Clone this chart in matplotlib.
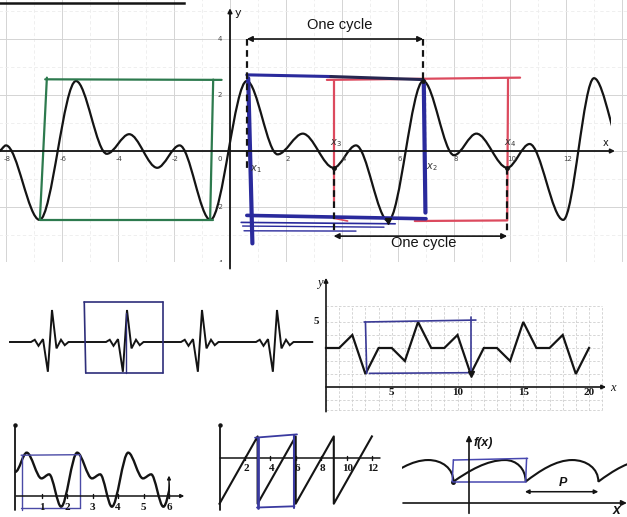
import matplotlib
matplotlib.use('Agg')
import matplotlib.pyplot as plt
from matplotlib.path import Path
from matplotlib.patches import PathPatch, Rectangle
from matplotlib.lines import Line2D

W, H = 627, 517

# ---------------- data ----------------
# top graph: turning points of the periodic curve
wave_x = [-8.25, -8.0, -6.8, -5.5, -4.4, -3.6, -2.6, -1.8, -0.7, 0.6, 1.7, 2.6, 3.7,
          4.5, 5.65, 6.9, 8.0, 8.8, 9.9, 10.7, 11.9, 13.0, 14.1]
wave_y = [0.0, 0.2, -2.46, 2.5, -0.1, 0.6, -0.6, 0.2, -2.46, 2.5, -0.12, 0.62, -0.6,
          0.2, -2.5, 2.5, -0.15, 0.62, -0.6, 0.25, -2.46, 2.6, -0.12]
wave_end = 13.6
top_xticks = [-8, -6, -4, -2, 0, 2, 4, 6, 8, 10, 12]
top_yticks = [4, 2, -2, -4]
x1, x2, x3, x4 = 0.6, 6.9, 3.7, 9.9

# ECG strip
ecg_beats = [0, 1, 2, 3]
beat_dx = [-0.28, -0.23, -0.18, -0.12, -0.055, 0.0, 0.06, 0.12, 0.17, 0.22]
beat_y = [0, 0.07, -0.12, 0.09, -0.93, 1.0, -0.2, 0.07, -0.1, 0]
ecg_start, ecg_end = -0.56, 3.47

# broken-line graph
tri_x = list(range(21))
tri_y = [3, 3, 4, 1, 3, 3, 2, 5, 3, 3, 4, 1, 3, 3, 2, 5, 3, 3, 4, 1, 3]
tri_xticks = [5, 10, 15, 20]

# bottom-left wave: turning points
bl_x = [-0.02, 0.42, 1.0, 1.3, 1.77, 2.4, 2.98, 3.3, 3.76, 4.4, 4.98, 5.3, 5.78, 6.4]
bl_y = [0.95, 1.7, 0.69, 0.85, -0.42, 1.7, 0.69, 0.85, -0.42, 1.7, 0.69, 0.85, -0.42, 1.7]
bl_end = 6.05
bl_xticks = [1, 2, 3, 4, 5, 6]

# sawtooth
saw_x = [0, 3, 3, 6, 6, 9, 9, 12]
saw_y = [-3.6, 1.7, -3.6, 1.7, -3.6, 1.7, -3.6, 1.7]
saw_xticks = [2, 4, 6, 8, 10, 12]

# f(x): cusps and peaks of the arches
fx_cusp_x = [-3.65, -0.65, 2.36, 5.39]
fx_peak_x = [-1.7, 1.5, 4.3, 7.4]
fx_low, fx_high = 0.89, 1.79
fx_start, fx_end = -2.8, 6.57

# ---------------- helpers ----------------
GREEN = '#2d7a4e'
BLUE = '#2a2a9c'
RED = '#dc4a5e'
INK = '#141414'

fig = plt.figure(figsize=(6.27, 5.17), dpi=100)
fig.patch.set_facecolor('white')


def px_axes(x0, y0, x1, y1, ox, oy, sx, sy):
    ax = fig.add_axes([x0 / W, 1 - y1 / H, (x1 - x0) / W, (y1 - y0) / H])
    ax.set_xlim((x0 - ox) / sx, (x1 - ox) / sx)
    ax.set_ylim((oy - y1) / sy, (oy - y0) / sy)
    ax.axis('off')
    return ax


def smooth(ax, xs, ys, xmin, xmax, lw=1.5, color=INK):
    verts = [(xs[0], ys[0])]
    codes = [Path.MOVETO]
    for i in range(len(xs) - 1):
        d = xs[i + 1] - xs[i]
        verts += [(xs[i] + d / 3, ys[i]), (xs[i + 1] - d / 3, ys[i + 1]), (xs[i + 1], ys[i + 1])]
        codes += [Path.CURVE4] * 3
    p = PathPatch(Path(verts, codes), fill=False, lw=lw, ec=color, capstyle='round')
    ax.add_patch(p)
    p.set_clip_path(Rectangle((xmin, -50), xmax - xmin, 100, transform=ax.transData))


def seg(ax, xa, ya, xb, yb, c, lw=1.3, **kw):
    ax.plot([xa, xb], [ya, yb], color=c, lw=lw, solid_capstyle='round', **kw)


def arrow(ax, xa, ya, xb, yb, style='-|>', lw=1.0, ms=7, c=INK):
    ax.annotate('', xy=(xb, yb), xytext=(xa, ya),
                arrowprops=dict(arrowstyle=style, lw=lw, color=c, mutation_scale=ms,
                                shrinkA=0, shrinkB=0), annotation_clip=False)


# ---------------- top graph ----------------
ax = px_axes(0, 0, 627, 262, 230, 151, 28, 28)
for gx in range(-8, 15):
    if gx % 2 == 0:
        ax.plot([gx, gx], [-4.2, 5.6], color='#d4d4d4', lw=0.7, zorder=0)
    else:
        ax.plot([gx, gx], [-4.2, 5.6], color='#ececec', lw=0.6, ls=(0, (4, 3)), zorder=0)
for gy in range(-4, 6):
    if gy % 2 == 0:
        ax.plot([-8.3, 14.3], [gy, gy], color='#d4d4d4', lw=0.7, zorder=0)
    else:
        ax.plot([-8.3, 14.3], [gy, gy], color='#ececec', lw=0.6, ls=(0, (4, 3)), zorder=0)

arrow(ax, -8.3, 0, 13.75, 0, lw=1.3, ms=6)
arrow(ax, 0, -4.2, 0, 5.1, lw=1.3, ms=6)
ax.text(0.18, 4.93, 'y', fontsize=8, ha='left', va='center', color=INK)
ax.text(13.4, 0.3, 'x', fontsize=7, ha='center', va='center', color=INK)
for t in top_xticks:
    lx = -0.36 if t == 0 else t + 0.05
    ax.text(lx, -0.3, str(t), fontsize=5, ha='center', va='center', color='#444444')
for t in top_yticks:
    ax.text(-0.36, t, str(t), fontsize=5, ha='center', va='center', color='#444444',
            clip_on=True)

smooth(ax, wave_x, wave_y, -8.3, wave_end, lw=1.6)

# green box
seg(ax, -6.6, 2.56, -0.3, 2.54, GREEN, 1.6)
seg(ax, -6.54, 2.62, -6.79, -2.46, GREEN, 1.6)
seg(ax, -0.6, 2.55, -0.71, -2.46, GREEN, 1.6)
seg(ax, -6.8, -2.46, -0.6, -2.46, GREEN, 1.6)

# red box
seg(ax, 3.46, 2.54, 10.36, 2.62, RED, 1.6)
seg(ax, x3, 2.55, x3, -1.8, RED, 1.6)
seg(ax, x4 + 0.03, 2.6, x4, -2.46, RED, 1.6)
seg(ax, 6.6, -2.5, x4, -2.48, RED, 1.6)
seg(ax, x3, -2.4, 4.2, -2.5, RED, 1.2)

# blue box
seg(ax, x1, 2.72, 3.6, 2.66, BLUE, 2.2)
seg(ax, 3.6, 2.66, x2, 2.55, '#262650', 2.2)
seg(ax, x1 + 0.05, 2.6, x1 + 0.2, -3.3, BLUE, 3.0)
seg(ax, x2 + 0.02, 2.5, x2 + 0.08, -2.2, BLUE, 3.0)
seg(ax, x1, -2.3, 7.0, -2.42, BLUE, 2.6)
seg(ax, 0.4, -2.55, 5.9, -2.6, BLUE, 1.2)
seg(ax, 0.45, -2.68, 5.5, -2.72, BLUE, 1.0)
seg(ax, 0.5, -2.85, 4.5, -2.86, BLUE, 1.0)

# dashed markers and cycle arrows
dash = (0, (3, 2))
seg(ax, x1, 4.0, x1, -0.6, INK, 1.6, ls=dash)
seg(ax, x2, 4.0, x2, 2.5, INK, 1.6, ls=dash)
seg(ax, x3, -0.6, x3, -2.95, INK, 1.6, ls=dash)
seg(ax, x4, -0.6, x4, -2.95, INK, 1.6, ls=dash)
arrow(ax, x1, 4.0, x2, 4.0, style='<|-|>', lw=1.2, ms=8)
arrow(ax, x3, -3.04, x4, -3.04, style='<|-|>', lw=1.2, ms=8)
ax.text((x1 + x2) / 2 + 0.15, 4.5, 'One cycle', fontsize=10.5, family='Liberation Sans',
        ha='center', va='center', color=INK)
ax.text(x2, -3.3, 'One cycle', fontsize=10.5, family='Liberation Sans',
        ha='center', va='center', color=INK)
ax.plot([x2, x3, x4], [2.5, -0.6, -0.6], 'o', ms=2.5, color=INK)
ax.plot([5.65], [-2.5], 'v', ms=4, color=INK)
for lab, lx, ly in [('$x_1$', 0.93, -0.64), ('$x_2$', 7.2, -0.57),
                    ('$x_3$', 3.78, 0.29), ('$x_4$', 10.0, 0.29)]:
    ax.text(lx, ly, lab, fontsize=7, ha='center', va='center', color='#333333')

fig.add_artist(Line2D([0, 184 / W], [1 - 2.5 / H, 1 - 2.5 / H], lw=1.8, color=INK,
                      transform=fig.transFigure))

# ---------------- ECG strip ----------------
ax = px_axes(0, 290, 320, 390, 52, 342, 75, 32)
ex, ey = [ecg_start], [0]
for b in ecg_beats:
    ex += [b + d for d in beat_dx]
    ey += beat_y
ex.append(ecg_end)
ey.append(0)
ax.plot(ex, ey, color=INK, lw=1.4, solid_joinstyle='miter')
bx0, bx1, by0, by1 = 0.43, 1.48, 1.25, -0.97
seg(ax, bx0, by0, bx1, by0, '#2e2e7a', 1.2)
seg(ax, bx0, by0, bx0 + 0.02, by1, '#2e2e7a', 1.2)
seg(ax, bx1, by0, bx1, by1, '#2e2e7a', 1.2)
seg(ax, bx0 + 0.02, by1, bx1, by1, '#2e2e7a', 1.2)
seg(ax, 0.985, by1, 0.985, 0.9, '#2e2e7a', 1.0)

# ---------------- broken-line graph ----------------
ax = px_axes(310, 270, 620, 415, 326, 387, 13.15, 13)
for gx in range(0, 22):
    ax.plot([gx, gx], [-1.8, 6.2], color='#cfcfcf', lw=0.6, ls=(0, (3, 2)), zorder=0)
for gy in [-1.8, -1, 1, 2, 3, 4, 5, 6.2]:
    ax.plot([0, 21], [gy, gy], color='#cfcfcf', lw=0.6, ls=(0, (3, 2)), zorder=0)
arrow(ax, 0, 0, 21.3, 0, lw=1.2, ms=6)
arrow(ax, 0, -1.9, 0, 8.4, lw=1.2, ms=6)
ax.text(-0.25, 8.0, 'y', fontsize=9, family='Liberation Serif', style='italic',
        ha='right', va='center', color=INK)
ax.text(21.8, -0.1, 'x', fontsize=9, family='Liberation Serif', style='italic',
        ha='center', va='center', color=INK)
ax.text(-0.7, 5, '5', fontsize=8, family='Liberation Serif', weight='bold',
        ha='center', va='center', color=INK)
for t in tri_xticks:
    ax.text(t, -0.45, str(t), fontsize=8, family='Liberation Serif', weight='bold',
            ha='center', va='center', color=INK)
ax.plot(tri_x, tri_y, color=INK, lw=1.6, solid_joinstyle='miter')
seg(ax, 2.9, 5.0, 11.4, 5.15, '#3a3a96', 1.2)
seg(ax, 3.0, 5.0, 3.1, 1.05, '#3a3a96', 1.2)
seg(ax, 11.0, 5.4, 11.0, 1.0, '#3a3a96', 1.2)
seg(ax, 3.3, 1.05, 11.0, 1.1, '#3a3a96', 1.2)
ax.plot([11], [1], 'v', ms=4, color=INK)

# ---------------- bottom-left wave ----------------
ax = px_axes(5, 415, 200, 517, 16, 496, 25.5, 25.5)
arrow(ax, 0, 0, 6.6, 0, lw=1.1, ms=5)
seg(ax, -0.04, -0.55, -0.04, 2.75, INK, 1.3)
ax.plot([-0.04], [2.78], 'o', ms=2.2, color=INK)
for t in bl_xticks:
    seg(ax, t, -0.07, t, 0.07, INK, 1.0)
    ax.text(t, -0.47, str(t), fontsize=8, family='Liberation Serif', weight='bold',
            ha='center', va='center', color=INK)
arrow(ax, 6.0, -0.1, 6.0, 0.8, lw=1.0, ms=5)
smooth(ax, bl_x, bl_y, -0.05, bl_end, lw=1.7)
seg(ax, 0.2, 1.6, 2.5, 1.62, '#4a4aa6', 1.0)
seg(ax, 0.22, 1.6, 0.22, -0.55, '#4a4aa6', 1.0)
seg(ax, 2.5, 1.62, 2.5, -0.47, '#4a4aa6', 1.0)
seg(ax, 0.2, -0.47, 2.5, -0.47, '#4a4aa6', 1.0)

# ---------------- sawtooth ----------------
ax = px_axes(205, 415, 382, 517, 219.5, 458, 12.7, 12.7)
seg(ax, 0, 0, 12.6, 0, INK, 1.1)
seg(ax, 0, -4.1, 0, 2.55, INK, 1.3)
ax.plot([0], [2.6], 'o', ms=2.2, color=INK)
for t in saw_xticks:
    seg(ax, t, -0.15, t, 0.15, INK, 1.0)
    ax.text(t + 0.1, -0.85, str(t), fontsize=8, family='Liberation Serif', weight='bold',
            ha='center', va='center', color=INK, clip_on=True)
ax.plot(saw_x, saw_y, color=INK, lw=1.5)
seg(ax, 2.8, 1.6, 6.1, 1.86, '#3a3aa0', 1.3)
seg(ax, 3.06, 1.6, 3.06, -3.9, '#3a3aa0', 2.0)
seg(ax, 5.9, 1.8, 5.9, -3.9, '#3a3aa0', 1.5)
seg(ax, 2.95, -3.9, 5.9, -3.8, '#3a3aa0', 1.3)

# ---------------- f(x) ----------------
ax = px_axes(390, 425, 627, 517, 469, 503, 24, 24)
arrow(ax, -2.75, 0, 6.58, 0, lw=1.2, ms=8)
arrow(ax, 0, -0.43, 0, 2.83, lw=1.2, ms=8)
ax.text(0.17, 2.5, 'f(x)', fontsize=9, family='Liberation Sans', weight='bold',
        style='italic', ha='left', va='center', color=INK)
ax.text(6.15, -0.3, 'x', fontsize=10, family='Liberation Sans', weight='bold',
        style='italic', ha='center', va='center', color=INK)
ax.text(3.92, 0.85, 'P', fontsize=9, family='Liberation Sans', weight='bold',
        style='italic', ha='center', va='center', color=INK)
arrow(ax, 2.33, 0.47, 5.39, 0.47, style='<|-|>', lw=1.1, ms=6)
verts, codes = [(fx_cusp_x[0], fx_low)], [Path.MOVETO]
for i in range(len(fx_cusp_x)):
    c, p = fx_cusp_x[i], fx_peak_x[i]
    d = p - c
    verts += [(c + 0.3 * d, fx_low + 0.5 * (fx_high - fx_low)), (c + 0.65 * d, fx_high), (p, fx_high)]
    codes += [Path.CURVE4] * 3
    if i + 1 < len(fx_cusp_x):
        n = fx_cusp_x[i + 1]
        verts += [(p + 0.55 * (n - p), fx_high), (n, fx_high - 0.35), (n, fx_low)]
        codes += [Path.CURVE4] * 3
pp = PathPatch(Path(verts, codes), fill=False, lw=1.5, ec=INK)
ax.add_patch(pp)
pp.set_clip_path(Rectangle((fx_start, -5), fx_end - fx_start, 10, transform=ax.transData))
ax.plot([fx_cusp_x[1]], [fx_low], 'o', ms=2.5, color=INK)
seg(ax, -0.65, 1.79, 2.44, 1.86, '#4848b0', 1.1)
seg(ax, -0.65, 1.8, -0.7, 0.89, '#4848b0', 1.1)
seg(ax, 2.4, 1.86, 2.36, 0.89, '#4848b0', 1.1)
seg(ax, -0.65, 0.89, 2.36, 0.89, '#4848b0', 1.1)

fig.savefig('out.png', dpi=100, facecolor='white')
